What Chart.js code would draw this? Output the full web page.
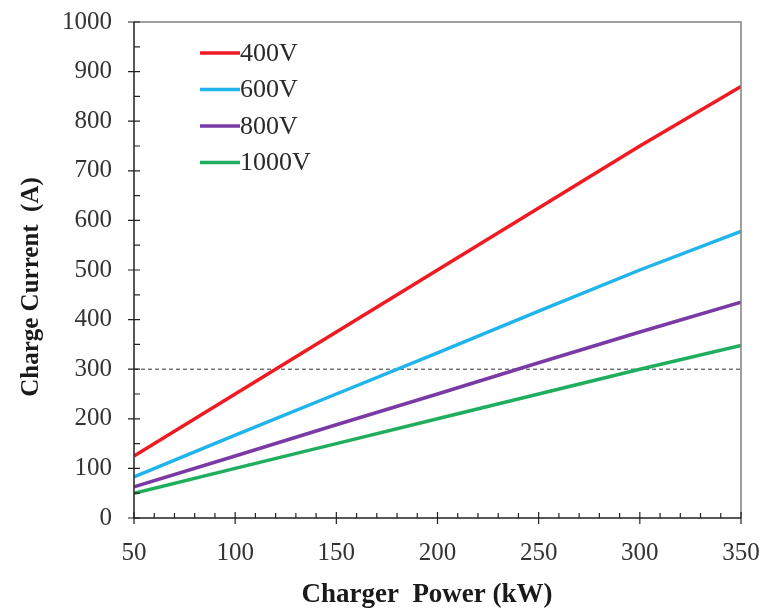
<!DOCTYPE html>
<html>
<head>
<meta charset="utf-8">
<title>Charge current vs charger power</title>
<script src="https://cdn.jsdelivr.net/npm/chart.js@4/dist/chart.umd.min.js"></script>
<style>
  html, body { margin: 0; padding: 0; background: #fff; }
  #wrap { width: 773px; height: 609px; }
</style>
</head>
<body>
<div id="wrap"><canvas id="myChart" width="773" height="609"></canvas></div>
<script>
// charger power (kW)
var power = [50, 100, 150, 200, 250, 300, 350];
// charge current (A) per battery voltage
var amps400 = [125, 250, 375, 500, 625, 750, 870];
var amps600 = [83, 167, 250, 333, 417, 500, 578];
var amps800 = [63, 125, 188, 250, 313, 375, 435];
var amps1000 = [50, 100, 150, 200, 250, 300, 348];
var limitPower = [50, 350];
var limitAmps = [300, 300];
var seriesNames = ['400V', '600V', '800V', '1000V'];
var seriesColors = ['#f01b22', '#1fb4ec', '#7a3aa6', '#1fae5e'];
var xTitle = 'Charger  Power (kW)';
var yTitle = 'Charge Current  (A)';

function pts(xs, ys) {
  return xs.map(function (x, i) { return { x: x, y: ys[i] }; });
}

var serif = '"Liberation Serif", "Times New Roman", serif';

// axes, minor ticks, frame, titles and in-plot legend
var decor = {
  id: 'decor',
  afterDraw: function (chart) {
    var ctx = chart.ctx, a = chart.chartArea;
    var xs = chart.scales.x, ys = chart.scales.y;
    ctx.save();
    // grey frame top/right
    ctx.strokeStyle = '#808080';
    ctx.lineWidth = 1.5;
    ctx.beginPath();
    ctx.moveTo(a.left, a.top);
    ctx.lineTo(a.right, a.top);
    ctx.lineTo(a.right, a.bottom);
    ctx.stroke();
    // black axes
    ctx.strokeStyle = '#222';
    ctx.beginPath();
    ctx.moveTo(a.left, a.top);
    ctx.lineTo(a.left, a.bottom);
    ctx.lineTo(a.right, a.bottom);
    ctx.stroke();
    ctx.lineWidth = 1.2;
    ctx.beginPath();
    var v, p;
    for (v = 50; v <= 350; v += 10) {
      p = xs.getPixelForValue(v);
      if ((v - 50) % 50 === 0) {
        ctx.moveTo(p, a.bottom - 6); ctx.lineTo(p, a.bottom + 6);
      } else {
        ctx.moveTo(p, a.bottom - 5); ctx.lineTo(p, a.bottom);
      }
    }
    for (v = 0; v <= 1000; v += 50) {
      p = ys.getPixelForValue(v);
      if (v % 100 === 0) {
        ctx.moveTo(a.left - 6, p); ctx.lineTo(a.left + 6, p);
      } else {
        ctx.moveTo(a.left, p); ctx.lineTo(a.left + 6, p);
      }
    }
    ctx.stroke();
    // axis titles
    ctx.fillStyle = '#1a1a1a';
    ctx.textAlign = 'center';
    ctx.textBaseline = 'middle';
    ctx.font = 'bold 27px ' + serif;
    ctx.fillText(xTitle, 427, 595);
    ctx.save();
    ctx.translate(32, 287);
    ctx.rotate(-Math.PI / 2);
    ctx.font = 'bold 25px ' + serif;
    ctx.fillText(yTitle, 0, 0);
    ctx.restore();
    // legend
    ctx.font = '26px ' + serif;
    ctx.textAlign = 'left';
    var lx = a.left + 66, ly = a.top + 31, gap = 36.5;
    for (var i = 0; i < seriesNames.length; i++) {
      var y = ly + i * gap;
      ctx.strokeStyle = seriesColors[i];
      ctx.lineWidth = 3.5;
      ctx.beginPath();
      ctx.moveTo(lx, y); ctx.lineTo(lx + 40, y);
      ctx.stroke();
      ctx.fillStyle = '#2a2a2a';
      ctx.fillText(seriesNames[i], lx + 40, y + 1);
    }
    ctx.restore();
  }
};

var datasets = [];
var seriesData = [amps400, amps600, amps800, amps1000];
for (var i = 0; i < seriesData.length; i++) {
  datasets.push({
    label: seriesNames[i],
    data: pts(power, seriesData[i]),
    borderColor: seriesColors[i],
    backgroundColor: seriesColors[i],
    borderWidth: 3.5,
    pointRadius: 0,
    tension: 0,
    fill: false
  });
}
datasets.push({
  label: 'limit',
  data: pts(limitPower, limitAmps),
  borderColor: '#333',
  borderWidth: 1,
  borderDash: [4, 3],
  pointRadius: 0,
  fill: false
});

var ctx = document.getElementById('myChart').getContext('2d');
var myChart = new Chart(ctx, {
  type: 'line',
  data: { datasets: datasets },
  options: {
    responsive: false,
    animation: false,
    layout: { padding: { top: 22, right: 32, left: 0, bottom: 0 } },
    plugins: { legend: { display: false }, tooltip: { enabled: false } },
    scales: {
      x: {
        type: 'linear',
        min: 50, max: 350,
        grid: { display: false, drawTicks: false },
        border: { display: false },
        ticks: { stepSize: 50, padding: 20, color: '#333', font: { family: serif, size: 25 }, maxRotation: 0,
                 callback: function (v) { return String(v); } },
        afterFit: function (s) { s.height = 91; s.paddingLeft = 0; s.paddingRight = 0; }
      },
      y: {
        min: 0, max: 1000,
        grid: { display: false, drawTicks: false },
        border: { display: false },
        ticks: { stepSize: 100, padding: 22, color: '#333', font: { family: serif, size: 25 },
                 callback: function (v) { return String(v); } },
        afterFit: function (s) { s.width = 134; s.paddingTop = 0; s.paddingBottom = 0; }
      }
    }
  },
  plugins: [decor]
});
</script>
</body>
</html>
